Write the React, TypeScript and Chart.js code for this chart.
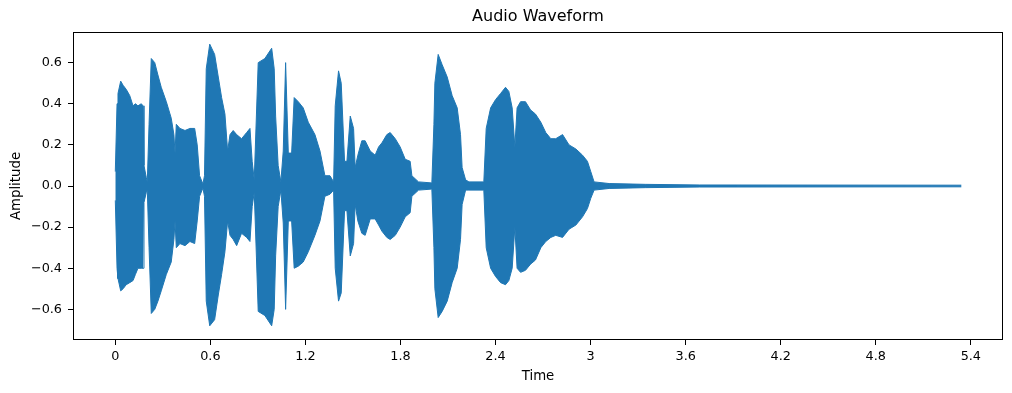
import React, { useEffect, useRef } from "react";
import { Chart, registerables } from "chart.js";

Chart.register(...registerables);

// Envelope of the waveform (seconds, upper amplitude, lower amplitude)
const times = [
  0.0, 0.011, 0.017, 0.034, 0.049, 0.069, 0.091, 0.112, 0.127, 0.143, 0.164, 0.175,
  0.181, 0.196, 0.202, 0.213, 0.227, 0.249, 0.269, 0.29, 0.322, 0.353, 0.37, 0.377,
  0.385, 0.408, 0.44, 0.471, 0.501, 0.517, 0.532, 0.553, 0.563, 0.574, 0.596, 0.627,
  0.65, 0.671, 0.692, 0.709, 0.724, 0.744, 0.766, 0.797, 0.829, 0.85, 0.864, 0.877,
  0.891, 0.902, 0.944, 0.987, 1.003, 1.012, 1.028, 1.045, 1.06, 1.075, 1.092, 1.113,
  1.129, 1.155, 1.186, 1.218, 1.26, 1.292, 1.323, 1.355, 1.378, 1.388, 1.409, 1.426,
  1.447, 1.462, 1.483, 1.504, 1.514, 1.531, 1.556, 1.577, 1.609, 1.64, 1.662, 1.683,
  1.714, 1.735, 1.767, 1.798, 1.83, 1.861, 1.872, 1.914, 1.998, 2.011, 2.017, 2.038,
  2.063, 2.095, 2.126, 2.158, 2.179, 2.189, 2.211, 2.232, 2.326, 2.341, 2.369, 2.4,
  2.432, 2.463, 2.484, 2.505, 2.522, 2.536, 2.558, 2.589, 2.621, 2.652, 2.686, 2.717,
  2.749, 2.78, 2.823, 2.864, 2.907, 2.949, 2.98, 3.001, 3.022, 3.117, 3.348, 3.689, 5.34,
];
const upper = [
  0.07, 0.4, 0.45, 0.51, 0.49, 0.47, 0.44, 0.39, 0.4, 0.39, 0.4, 0.39,
  0.1, 0.04, 0.02, 0.3, 0.62, 0.6, 0.54, 0.48, 0.41, 0.33, 0.25, 0.16,
  0.3, 0.28, 0.27, 0.28, 0.28, 0.2, 0.05, 0.01, 0.05, 0.57, 0.69, 0.64,
  0.53, 0.43, 0.35, 0.17, 0.25, 0.27, 0.25, 0.23, 0.26, 0.28, 0.12, 0.03,
  0.35, 0.6, 0.62, 0.67, 0.57, 0.34, 0.1, 0.02, 0.17, 0.6, 0.16, 0.16,
  0.43, 0.41, 0.38, 0.31, 0.25, 0.17, 0.05, 0.05, 0.02, 0.39, 0.56, 0.5,
  0.12, 0.12, 0.34, 0.28, 0.09, 0.15, 0.22, 0.22, 0.17, 0.15, 0.19, 0.21,
  0.25, 0.26, 0.23, 0.19, 0.13, 0.12, 0.05, 0.02, 0.015, 0.3, 0.5, 0.64,
  0.59, 0.53, 0.44, 0.38, 0.25, 0.09, 0.03, 0.02, 0.02, 0.28, 0.38, 0.42,
  0.45, 0.48, 0.46, 0.38, 0.19, 0.38, 0.41, 0.41, 0.37, 0.35, 0.31, 0.26,
  0.23, 0.23, 0.25, 0.2, 0.18, 0.15, 0.12, 0.07, 0.02, 0.012, 0.008, 0.005, 0.004,
];
const lower = [
  -0.07, -0.4, -0.45, -0.51, -0.5, -0.48, -0.47, -0.46, -0.43, -0.4, -0.4, -0.4,
  -0.08, -0.03, -0.02, -0.3, -0.62, -0.6, -0.56, -0.51, -0.43, -0.37, -0.26, -0.17,
  -0.3, -0.28, -0.29, -0.27, -0.28, -0.17, -0.05, -0.01, -0.05, -0.56, -0.68, -0.65,
  -0.53, -0.43, -0.32, -0.17, -0.24, -0.26, -0.29, -0.23, -0.25, -0.27, -0.1, -0.03,
  -0.35, -0.61, -0.63, -0.68, -0.6, -0.34, -0.1, -0.02, -0.18, -0.6, -0.17, -0.17,
  -0.4, -0.39, -0.37, -0.32, -0.24, -0.17, -0.05, -0.04, -0.02, -0.4, -0.56, -0.52,
  -0.12, -0.12, -0.34, -0.28, -0.09, -0.17, -0.23, -0.24, -0.16, -0.16, -0.19, -0.22,
  -0.25, -0.26, -0.24, -0.2, -0.15, -0.13, -0.05, -0.02, -0.015, -0.3, -0.5, -0.64,
  -0.61, -0.56, -0.47, -0.4, -0.26, -0.09, -0.02, -0.02, -0.02, -0.3, -0.4, -0.44,
  -0.47, -0.48, -0.46, -0.4, -0.2, -0.4, -0.42, -0.41, -0.38, -0.36, -0.3, -0.27,
  -0.25, -0.24, -0.25, -0.21, -0.19, -0.15, -0.11, -0.06, -0.02, -0.012, -0.008, -0.005, -0.004,
];

const xTickValues = [0, 0.6, 1.2, 1.8, 2.4, 3.0, 3.6, 4.2, 4.8, 5.4];
const xTickLabels = ["0", "0.6", "1.2", "1.8", "2.4", "3", "3.6", "4.2", "4.8", "5.4"];
const yTickValues = [-0.6, -0.4, -0.2, 0.0, 0.2, 0.4, 0.6];
const yTickLabels = ["\u22120.6", "\u22120.4", "\u22120.2", "0.0", "0.2", "0.4", "0.6"];

const titleText = "Audio Waveform";
const xLabel = "Time";
const yLabel = "Amplitude";

const FONT = "'DejaVu Sans', sans-serif";
const BLUE = "#1f77b4";

export default function App() {
  const canvasRef = useRef<HTMLCanvasElement | null>(null);

  useEffect(() => {
    document.body.style.margin = "0";
    const canvas = canvasRef.current;
    if (!canvas) return;

    const frameAndTitle = {
      id: "frameAndTitle",
      afterDraw(chart: any) {
        const { ctx, chartArea } = chart;
        ctx.save();
        ctx.strokeStyle = "#000";
        ctx.lineWidth = 1;
        ctx.strokeRect(
          Math.round(chartArea.left) + 0.5,
          Math.round(chartArea.top) + 0.5,
          Math.round(chartArea.right - chartArea.left) - 1,
          Math.round(chartArea.bottom - chartArea.top) - 1
        );
        ctx.fillStyle = "#000";
        ctx.font = `16px ${FONT}`;
        ctx.textAlign = "center";
        ctx.textBaseline = "middle";
        ctx.fillText(titleText, (chartArea.left + chartArea.right) / 2, 17);
        ctx.restore();
      },
    };

    const chart = new Chart(canvas, {
      type: "line",
      data: {
        datasets: [
          {
            data: times.map((t, i) => ({ x: t, y: upper[i] })),
            borderColor: BLUE,
            backgroundColor: BLUE,
            borderWidth: 1,
            pointRadius: 0,
            tension: 0,
            fill: "+1",
          },
          {
            data: times.map((t, i) => ({ x: t, y: lower[i] })),
            borderColor: BLUE,
            backgroundColor: BLUE,
            borderWidth: 1,
            pointRadius: 0,
            tension: 0,
            fill: false,
          },
        ],
      },
      options: {
        animation: false,
        responsive: false,
        devicePixelRatio: 1,
        layout: { padding: { top: 32, right: 9, left: 0, bottom: 0 } },
        plugins: {
          legend: { display: false },
          tooltip: { enabled: false },
          title: { display: false },
        },
        scales: {
          x: {
            type: "linear",
            min: -0.267,
            max: 5.603,
            afterBuildTicks: (scale: any) => {
              scale.ticks = xTickValues.map((v) => ({ value: v }));
            },
            afterFit: (scale: any) => {
              scale.height = 53;
            },
            ticks: {
              autoSkip: false,
              maxRotation: 0,
              padding: 4,
              color: "#000",
              font: { family: FONT, size: 12.8 },
              callback: (_v: any, i: number) => xTickLabels[i],
            },
            grid: {
              drawOnChartArea: false,
              drawTicks: true,
              tickLength: 5,
              color: "#000",
            },
            border: { display: false },
            title: {
              display: true,
              text: xLabel,
              color: "#000",
              font: { family: FONT, size: 13.3 },
              padding: { top: 0, bottom: 8 },
            },
          },
          y: {
            type: "linear",
            min: -0.749,
            max: 0.749,
            afterBuildTicks: (scale: any) => {
              scale.ticks = yTickValues.map((v) => ({ value: v }));
            },
            afterFit: (scale: any) => {
              scale.width = 73;
            },
            ticks: {
              autoSkip: false,
              padding: 6,
              color: "#000",
              font: { family: FONT, size: 12.8 },
              callback: (_v: any, i: number) => yTickLabels[i],
            },
            grid: {
              drawOnChartArea: false,
              drawTicks: true,
              tickLength: 5,
              color: "#000",
            },
            border: { display: false },
            title: {
              display: true,
              text: yLabel,
              color: "#000",
              font: { family: FONT, size: 13.3 },
              padding: { top: 9, bottom: 0 },
            },
          },
        },
      },
      plugins: [frameAndTitle],
    });

    return () => chart.destroy();
  }, []);

  return (
    <div style={{ width: 1012, height: 393 }}>
      <canvas ref={canvasRef} width={1012} height={393} />
    </div>
  );
}
